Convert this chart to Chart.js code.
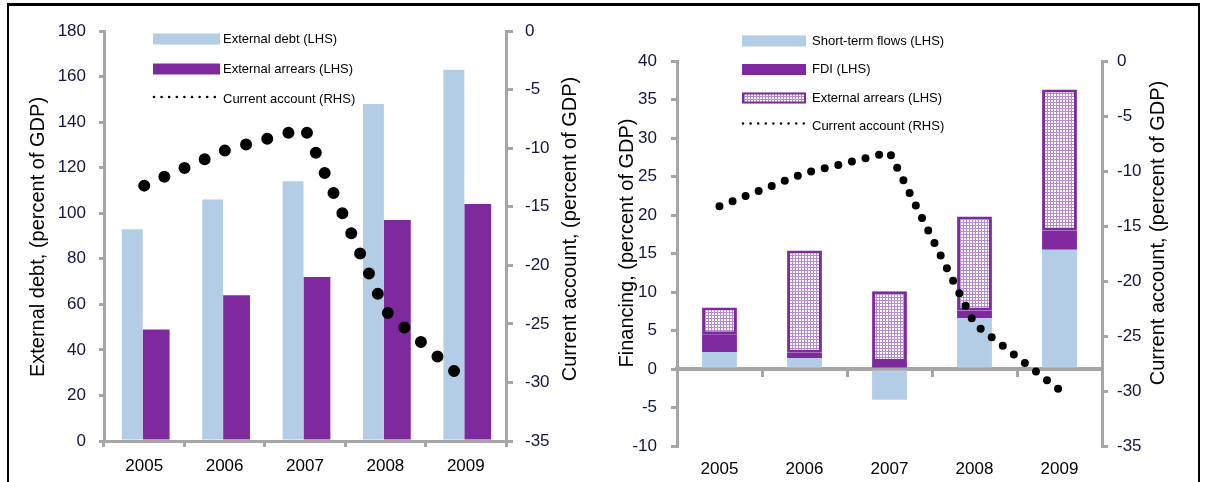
<!DOCTYPE html>
<html>
<head>
<meta charset="utf-8">
<title>External debt and financing</title>
<script src="https://cdn.jsdelivr.net/npm/chart.js@4.4.1/dist/chart.umd.min.js"></script>
<style>
  html, body { margin: 0; padding: 0; background: #fff; }
  body { width: 1206px; height: 482px; position: relative; overflow: hidden; }
  #leftBox { position: absolute; left: 0; top: 0; width: 600px; height: 482px; }
  #rightBox { position: absolute; left: 600px; top: 0; width: 606px; height: 482px; }
  .frame {
    position: absolute; left: 7px; top: 3px; width: 1193px; height: 500px;
    border: 2px solid #000; border-top-width: 3px; border-bottom: none;
    box-sizing: border-box; z-index: 2;
  }
</style>
</head>
<body>
<div id="leftBox"><canvas id="debtChart" width="600" height="482"></canvas></div>
<div id="rightBox"><canvas id="financingChart" width="606" height="482"></canvas></div>
<div class="frame"></div>

<script>
const years = ["2005", "2006", "2007", "2008", "2009"];

// left panel, percent of GDP
const externalDebt = [93, 106, 114, 148, 163];
const externalArrearsStock = [49, 64, 72, 97, 104];

// right panel, percent of GDP
const shortTermFlows = [2.2, 1.4, -4.0, 6.6, 15.5];
const fdiFlows = [2.3, 0.7, 0.9, 1.0, 2.5];
const arrearsFlows = [3.5, 13.3, 9.2, 12.2, 18.3];

// current account balance (RHS on both panels)
const currentAccount = [-13.2, -10.2, -8.3, -23.9, -29.9];

const lightBlue = "#b4cde6";
const purple = "#7e2a9e";
const axisGrey = "#a6a6a6";
const tickColor = "#12163a";
const tickFont = { family: "'Liberation Sans', Arial, sans-serif", size: 17 };
const legendFont = "13px 'Liberation Sans Narrow', 'Liberation Sans', Arial, sans-serif";
const titleFont = "20px 'Liberation Sans', Arial, sans-serif";

// checkered fill used for the arrears bars
function arrearsPattern() {
    const tile = document.createElement("canvas");
    tile.width = 3;
    tile.height = 3;
    const c = tile.getContext("2d");
    c.fillStyle = "#b58bd0";
    c.fillRect(0, 0, 3, 3);
    c.fillStyle = "#ffffff";
    c.fillRect(1, 1, 2, 2);
    return c.createPattern(tile, "repeat");
}

/* ---------- legend drawn inside the plot ---------- */
const insideLegend = {
    id: "insideLegend",
    afterDraw(chart, args, opts) {
        const ctx = chart.ctx;
        ctx.save();
        ctx.font = legendFont;
        ctx.textBaseline = "middle";
        opts.items.forEach((di, row) => {
            const ds = chart.data.datasets[di];
            const x = opts.x;
            const y = opts.y + row * opts.rowGap;
            if (ds.type === "line") {
                ctx.beginPath();
                ctx.setLineDash([0, opts.dotGap]);
                ctx.lineCap = "round";
                ctx.lineWidth = 2.6;
                ctx.strokeStyle = "#000";
                ctx.moveTo(x + 1, y - opts.dotLift);
                ctx.lineTo(x + opts.swatchW, y - opts.dotLift);
                ctx.stroke();
                ctx.setLineDash([]);
            } else {
                ctx.fillStyle = ds.backgroundColor;
                ctx.fillRect(x, y - opts.swatchH / 2, opts.swatchW, opts.swatchH);
                if (ds.borderWidth) {
                    ctx.lineWidth = 2;
                    ctx.strokeStyle = ds.borderColor;
                    ctx.strokeRect(x + 1, y - opts.swatchH / 2 + 1, opts.swatchW - 2, opts.swatchH - 2);
                }
            }
            ctx.fillStyle = "#000";
            ctx.fillText(ds.label, x + opts.swatchW + opts.textGap, y);
        });
        ctx.restore();
    }
};

/* ---------- rotated axis titles ---------- */
const sideTitles = {
    id: "sideTitles",
    afterDraw(chart, args, opts) {
        const ctx = chart.ctx;
        ctx.save();
        ctx.font = titleFont;
        ctx.fillStyle = "#000";
        ctx.textAlign = "center";
        ctx.textBaseline = "middle";
        opts.items.forEach(t => {
            ctx.save();
            ctx.translate(t.x, t.y);
            ctx.rotate(-Math.PI / 2);
            ctx.fillText(t.text, 0, 0);
            ctx.restore();
        });
        ctx.restore();
    }
};

function yAxis(position, min, max, step, pad, tick, width) {
    return {
        position: position,
        min: min,
        max: max,
        ticks: { stepSize: step, font: tickFont, color: tickColor, padding: pad },
        grid: { drawOnChartArea: false, tickLength: tick, color: axisGrey, lineWidth: 3 },
        border: { color: axisGrey, width: 3 },
        afterFit(s) { s.width = width; }
    };
}

/* ================= LEFT PANEL ================= */
new Chart(document.getElementById("debtChart"), {
    type: "bar",
    data: {
        labels: years,
        datasets: [
            {
                type: "line",
                label: "Current account (RHS)",
                data: currentAccount,
                yAxisID: "y1",
                borderColor: "#000",
                borderWidth: 12,
                borderDash: [0, 22],
                borderCapStyle: "round",
                pointRadius: 0,
                tension: 0,
                fill: false,
                order: 0
            },
            {
                label: "External debt (LHS)",
                data: externalDebt,
                backgroundColor: lightBlue,
                yAxisID: "y",
                categoryPercentage: 0.594,
                barPercentage: 0.875,
                order: 1
            },
            {
                label: "External arrears (LHS)",
                data: externalArrearsStock,
                backgroundColor: purple,
                yAxisID: "y",
                categoryPercentage: 0.594,
                barPercentage: 1.125,
                order: 1
            }
        ]
    },
    options: {
        responsive: false,
        animation: false,
        layout: { padding: { top: 31, left: 0, right: 0, bottom: 0 } },
        plugins: {
            legend: { display: false },
            tooltip: { enabled: false },
            insideLegend: { items: [1, 2, 0], x: 153, y: 39, rowGap: 30, swatchW: 67, swatchH: 11, textGap: 3, dotGap: 7.6, dotLift: 2 },
            sideTitles: {
                items: [
                    { text: "External debt, (percent of GDP)", x: 38, y: 237 },
                    { text: "Current account, (percent of GDP)", x: 570, y: 229 }
                ]
            }
        },
        scales: {
            x: {
                offset: true,
                grid: { offset: true, drawOnChartArea: false, tickLength: 6, color: axisGrey, lineWidth: 3 },
                border: { color: axisGrey, width: 3 },
                ticks: { font: tickFont, color: "#000", padding: 9, maxRotation: 0 },
                afterFit(s) { s.height = 41; }
            },
            y: yAxis("left", 0, 180, 20, 13, 5, 104),
            y1: yAxis("right", -35, 0, 5, 12, 7, 94)
        }
    },
    plugins: [insideLegend, sideTitles]
});

/* ================= RIGHT PANEL ================= */
new Chart(document.getElementById("financingChart"), {
    type: "bar",
    data: {
        labels: years,
        datasets: [
            {
                type: "line",
                label: "Current account (RHS)",
                data: currentAccount,
                yAxisID: "y1",
                borderColor: "#000",
                borderWidth: 8,
                borderDash: [0, 14],
                borderCapStyle: "round",
                pointRadius: 0,
                tension: 0,
                fill: false,
                order: 0
            },
            {
                label: "Short-term flows (LHS)",
                data: shortTermFlows,
                backgroundColor: lightBlue,
                yAxisID: "y",
                stack: "fin",
                order: 1
            },
            {
                label: "FDI (LHS)",
                data: fdiFlows,
                backgroundColor: purple,
                yAxisID: "y",
                stack: "fin",
                order: 1
            },
            {
                label: "External arrears (LHS)",
                data: arrearsFlows,
                backgroundColor: arrearsPattern(),
                borderColor: purple,
                borderWidth: 3,
                borderSkipped: false,
                yAxisID: "y",
                stack: "fin",
                order: 1
            }
        ]
    },
    options: {
        responsive: false,
        animation: false,
        layout: { padding: { top: 61, left: 0, right: 0, bottom: 0 } },
        datasets: { bar: { categoryPercentage: 1, barPercentage: 0.41 } },
        plugins: {
            legend: { display: false },
            tooltip: { enabled: false },
            insideLegend: { items: [1, 2, 3, 0], x: 142, y: 41, rowGap: 28.5, swatchW: 64, swatchH: 11, textGap: 6, dotGap: 7.6, dotLift: 3 },
            sideTitles: {
                items: [
                    { text: "Financing, (percent of GDP)", x: 27, y: 243 },
                    { text: "Current account, (percent of GDP)", x: 558, y: 233 }
                ]
            }
        },
        scales: {
            // category axis crossing at zero
            x: {
                type: "category",
                position: { y: 0 },
                offset: true,
                stacked: true,
                grid: { offset: true, drawOnChartArea: false, tickLength: 6, color: axisGrey, lineWidth: 3 },
                border: { color: axisGrey, width: 4 },
                ticks: { display: false }
            },
            // year labels along the bottom
            xLabels: {
                type: "category",
                labels: years,
                position: "bottom",
                offset: true,
                grid: { display: false },
                border: { display: false },
                ticks: { font: tickFont, color: "#000", padding: 5, maxRotation: 0 },
                afterFit(s) { s.height = 36; }
            },
            y: Object.assign(yAxis("left", -10, 40, 5, 14, 6, 77), { stacked: true }),
            y1: yAxis("right", -35, 0, 5, 9, 6, 104)
        }
    },
    plugins: [insideLegend, sideTitles]
});
</script>
</body>
</html>
